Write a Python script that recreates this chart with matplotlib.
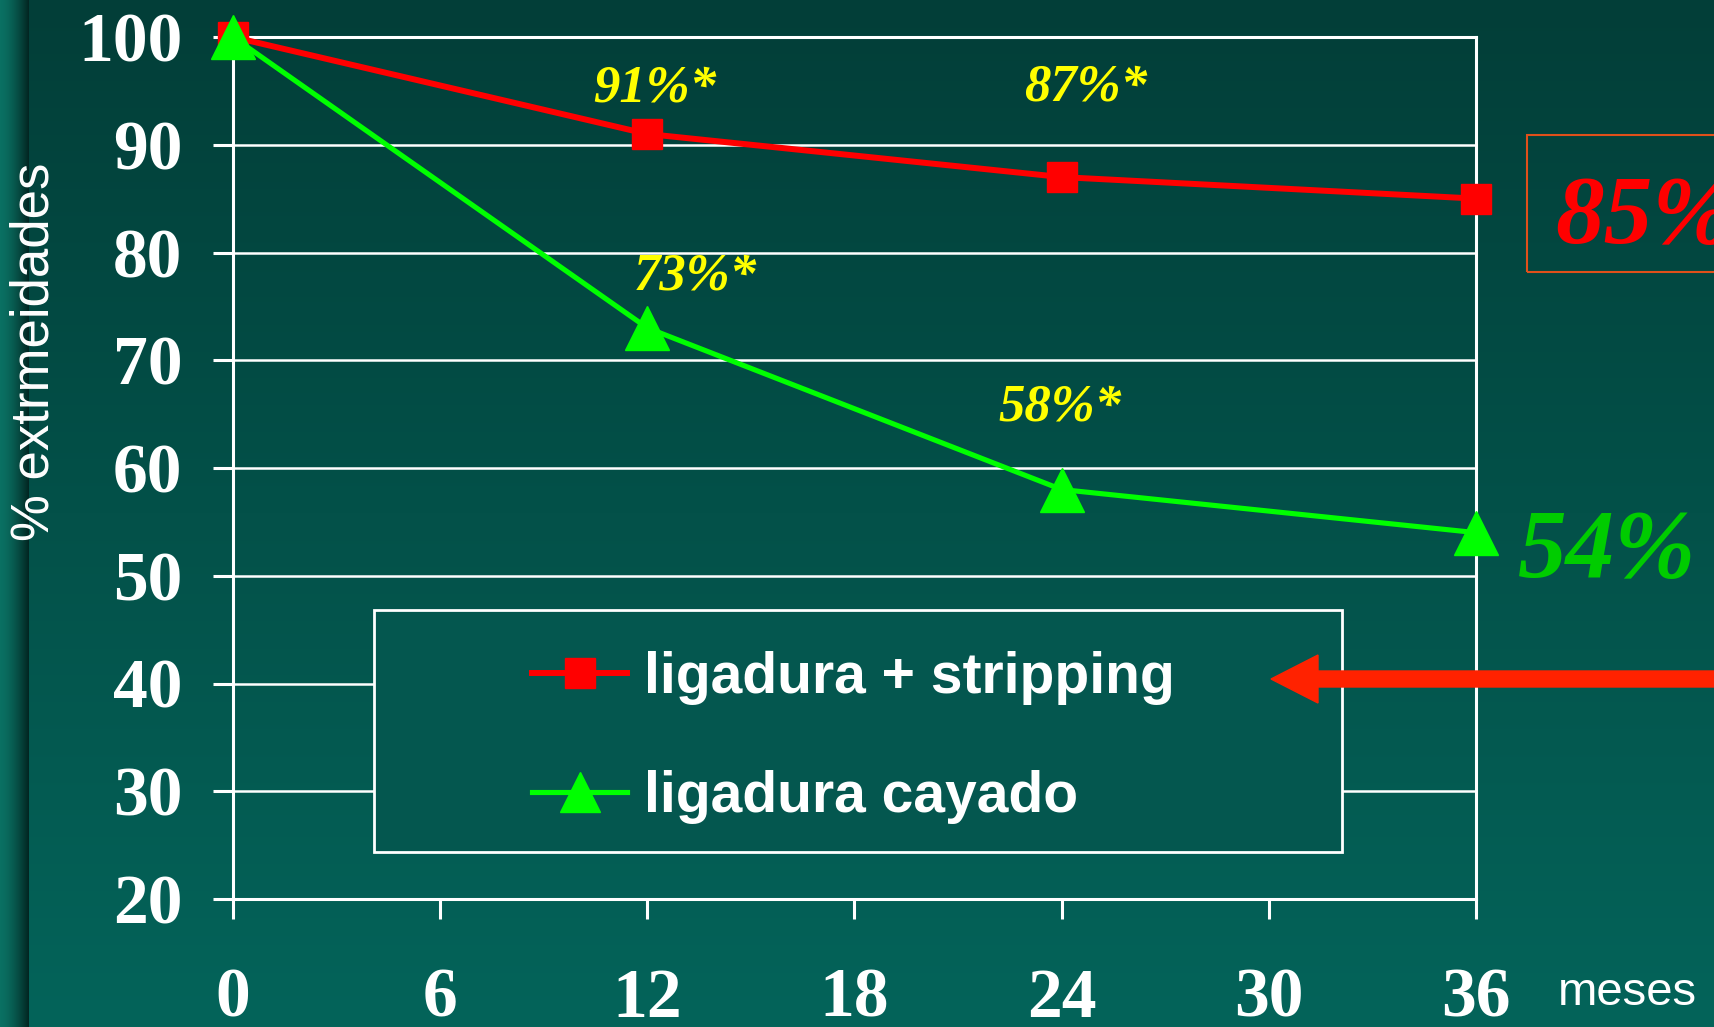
import numpy as np
import matplotlib
matplotlib.use("Agg")
import matplotlib.pyplot as plt
from matplotlib.patches import Rectangle, FancyArrow
from matplotlib.transforms import IdentityTransform
from matplotlib.lines import Line2D

# ---- data ----
months = [0, 12, 24, 36]
stripping = [100, 91, 87, 85]
cayado = [100, 73, 58, 54]
series_labels = ["ligadura + stripping", "ligadura cayado"]
x_ticks = [0, 6, 12, 18, 24, 30, 36]
y_ticks = [20, 30, 40, 50, 60, 70, 80, 90, 100]
ann_texts = ["91%*", "87%*", "73%*", "58%*"]
ann_x = [12.22, 24.70, 13.38, 23.95]
ann_y = [93.97, 94.15, 76.52, 64.45]

W, H = 1715, 1027
DPI = 100
SERIF = "Liberation Serif"
SANS = "Liberation Sans"

fig = plt.figure(figsize=(W / DPI, H / DPI), dpi=DPI)

# ---- background gradient ----
bgax = fig.add_axes([0, 0, 1, 1], zorder=-10)
bgax.set_axis_off()
top = np.array([2, 62, 56]) / 255.0
bot = np.array([4, 100, 90]) / 255.0
t = np.linspace(0, 1, H)[:, None, None]
img = top * (1 - t) + bot * t
img = np.repeat(img, W, axis=1)
# left stripe
sw = 29
light = np.array([10, 112, 98]) / 255.0
dark = np.array([2, 38, 34]) / 255.0
s = (np.arange(sw) / (sw - 1)) ** 1.6
stripe = light[None, :] * (1 - s[:, None]) + dark[None, :] * s[:, None]
img[:, :sw, :] = stripe[None, :, :]
bgax.imshow(img, extent=[0, 1, 0, 1], aspect="auto", origin="upper")
bgax.set_xlim(0, 1)
bgax.set_ylim(0, 1)

# ---- main axes ----
left = 233 / W
right = 1476 / W
bottom = 1 - 899 / H
topf = 1 - 37 / H
ax = fig.add_axes([left, bottom, right - left, topf - bottom])
ax.set_facecolor("none")
ax.set_xlim(0, 36)
ax.set_ylim(20, 100)
ax.set_xticks(x_ticks)
ax.set_yticks(y_ticks)
ax.set_xticklabels([str(v) for v in x_ticks])
ax.set_yticklabels([str(v) for v in y_ticks])
for sp in ["left", "bottom", "right", "top"]:
    ax.spines[sp].set_color("white")
    ax.spines[sp].set_linewidth(2.2)
ax.tick_params(axis="both", colors="white", length=14.5, width=2.2, direction="out")
ax.tick_params(axis="x", pad=35)
ax.tick_params(axis="y", pad=22)
for lab in ax.get_xticklabels() + ax.get_yticklabels():
    lab.set_fontfamily(SERIF)
    lab.set_fontweight("bold")
    lab.set_fontsize(50)
    lab.set_color("white")
ax.yaxis.grid(True, color="white", linewidth=1.8, zorder=1)
ax.set_axisbelow(True)

# lines
ax.plot(months, stripping, color="#ff0000", lw=4.3, marker="s", ms=21,
        mec="#ff0000", mfc="#ff0000", clip_on=False, zorder=4)
ax.plot(months, cayado, color="#00ff00", lw=3.7, marker="^", ms=31,
        mec="#00ff00", mfc="#00ff00", clip_on=False, zorder=5)

for txt, xx, yy in zip(ann_texts, ann_x, ann_y):
    ax.text(xx, yy, txt, color="#ffff00", fontfamily=SERIF, fontweight="bold",
            fontstyle="italic", fontsize=38, ha="center", va="baseline", zorder=6)

# legend box
lx0, lx1 = 374, 1342
ly0, ly1 = 610, 852
rect = Rectangle((lx0 / W, 1 - ly1 / H), (lx1 - lx0) / W, (ly1 - ly0) / H,
                 transform=fig.transFigure, facecolor="#04574f", edgecolor="white",
                 linewidth=2, zorder=2.5, clip_on=False)
ax.add_patch(rect)
handles = [
    Line2D([], [], color="#ff0000", lw=4.3, marker="s", ms=21, mec="#ff0000"),
    Line2D([], [], color="#00ff00", lw=3.7, marker="^", ms=29, mec="#00ff00"),
]
leg = ax.legend(handles, series_labels, loc="upper left",
                bbox_to_anchor=(532 / W, 1 - 651 / H), bbox_transform=fig.transFigure,
                frameon=False, borderpad=0, borderaxespad=0, handlelength=1.67,
                handletextpad=0.3, labelspacing=1.14,
                prop={"family": SANS, "weight": "bold", "size": 41})
for tx in leg.get_texts():
    tx.set_color("white")
leg.set_zorder(7)

# right side annotations
box = Rectangle((1527 / W, 1 - 272 / H), 0.2, (272 - 135) / H,
                transform=fig.transFigure, facecolor="none", edgecolor="#e0501a",
                linewidth=1.5, zorder=3)
fig.add_artist(box)
fig.text(1555 / W, 1 - 243 / H, "85%", color="#ff0000", fontfamily=SERIF,
         fontweight="bold", fontstyle="italic", fontsize=70, ha="left", va="baseline")
fig.text(1518 / W, 1 - 577 / H, "54%", color="#00cc00", fontfamily=SERIF,
         fontweight="bold", fontstyle="italic", fontsize=70, ha="left", va="baseline")
fig.text(1558 / W, 1 - 1005 / H, "meses", color="white", fontfamily=SANS,
         fontsize=34, ha="left", va="baseline")
fig.text(35 / W, 1 - 352 / H, "% extrmeidades", color="white", fontfamily=SANS,
         fontsize=38, rotation=90, ha="center", va="center")

# red arrow (pixels)
arrow = FancyArrow(1725, H - 679, -(1725 - 1271), 0, width=16, head_width=48,
                   head_length=47, length_includes_head=True, color="#ff2200",
                   transform=IdentityTransform(), zorder=8)
fig.add_artist(arrow)

fig.savefig("out.png", dpi=DPI)
